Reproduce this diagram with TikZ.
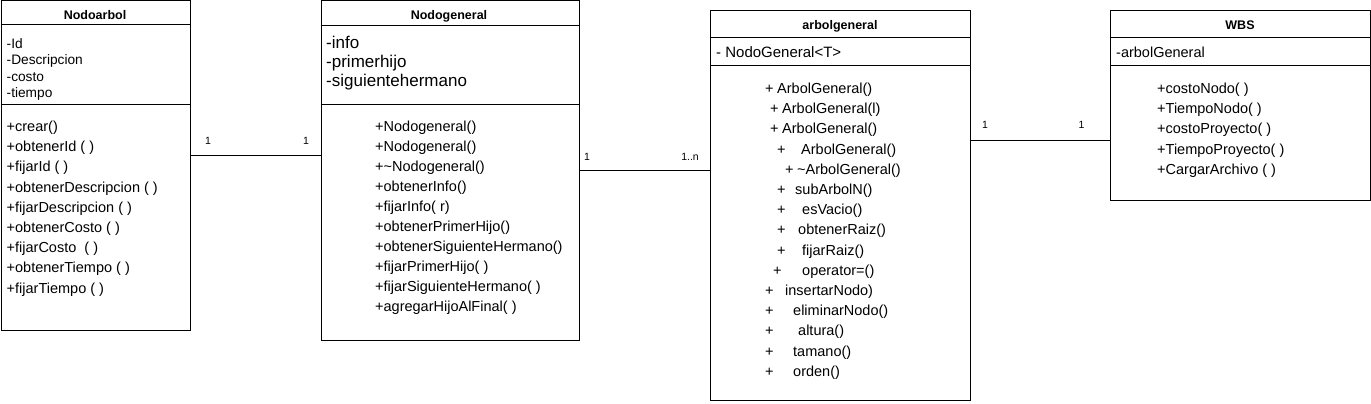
\documentclass[tikz,border=0pt]{standalone}
\usepackage{fontspec}
\setmainfont{Liberation Sans}
\tikzset{
  umlbox/.style={draw, line width=1pt, anchor=north west, inner sep=0pt},
  classname/.style={font=\fontsize{12.5}{14}\selectfont\bfseries, anchor=base, inner sep=0pt},
  member/.style={font=\fontsize{14.5}{16}\selectfont, anchor=base west, inner sep=0pt},
  mult/.style={font=\fontsize{10.5}{12}\selectfont, anchor=base, inner sep=0pt},
}
\begin{document}
\begin{tikzpicture}[x=1pt, y=-1pt]
	\useasboundingbox (0,0) rectangle (1371,404);
	% class boxes
	\node[umlbox, minimum width=189.5pt, minimum height=329.5pt] (nodoarbol) at (0.5,0.5) {};
	\node[umlbox, minimum width=258pt, minimum height=339pt] (nodogeneral) at (320.5,0.5) {};
	\node[umlbox, minimum width=260pt, minimum height=389.5pt] (arbolgeneral) at (710,10) {};
	\node[umlbox, minimum width=260pt, minimum height=190pt] (wbs) at (1110,10) {};
	
	% compartments
	\draw[line width=1pt] (nodoarbol.west |- 0,25) -- (nodoarbol.east |- 0,25);
	\draw[line width=1pt] (nodoarbol.west |- 0,104) -- (nodoarbol.east |- 0,104);
	\draw[line width=1pt] (nodogeneral.west |- 0,26) -- (nodogeneral.east |- 0,26);
	\draw[line width=1pt] (nodogeneral.west |- 0,104) -- (nodogeneral.east |- 0,104);
	\draw[line width=1pt] (arbolgeneral.west |- 0,38) -- (arbolgeneral.east |- 0,38);
	\draw[line width=1pt] (arbolgeneral.west |- 0,66) -- (arbolgeneral.east |- 0,66);
	\draw[line width=1pt] (wbs.west |- 0,38) -- (wbs.east |- 0,38);
	\draw[line width=1pt] (wbs.west |- 0,66) -- (wbs.east |- 0,66);
	
	% names
	\node[classname] (nodoarbolname) at (95,20) {Nodoarbol};
	\node[classname] (nodogeneralname) at (449,20) {Nodogeneral};
	\node[classname] (arbolgeneralname) at (840,30) {arbolgeneral};
	\node[classname] (wbsname) at (1240,30) {WBS};
	
	% Nodoarbol
	\foreach \txt [count=\i from 0] in {-Id, -Descripcion, -costo, -tiempo}
		\node[member, font=\fontsize{13.7}{15}\selectfont] (naa\i) at (6.5,{48.5+16.3*\i}) {\txt};
	\foreach \txt [count=\i from 0] in {+crear(), +obtenerId ( ), +fijarId ( ), +obtenerDescripcion ( ), +fijarDescripcion ( ), +obtenerCosto ( ), +fijarCosto\ \ ( ), +obtenerTiempo ( ), +fijarTiempo ( )}
		\node[member] (nam\i) at (6.5,{131.5+20.2*\i}) {\txt};
	
	% Nodogeneral
	\foreach \txt [count=\i from 0] in {-info, -primerhijo, -siguientehermano}
		\node[member, font=\fontsize{17}{19}\selectfont] (nga\i) at (326,{49+19*\i}) {\txt};
	\foreach \txt [count=\i from 0] in {+Nodogeneral(), +Nodogeneral(), +\textasciitilde Nodogeneral(), +obtenerInfo(), +fijarInfo( r), +obtenerPrimerHijo(), +obtenerSiguienteHermano(), +fijarPrimerHijo( ), +fijarSiguienteHermano( ), +agregarHijoAlFinal( )}
		\node[member] (ngm\i) at (375,{131+20.1*\i}) {\txt};
	
	% arbolgeneral
	\node[member, font=\fontsize{15}{17}\selectfont] (aga0) at (716,57.5) {- NodoGeneral<T>};
	\foreach \px/\nx/\txt [count=\i from 0] in {765/777/ArbolGeneral(), 770/782/ArbolGeneral(l), 770/782/ArbolGeneral(), 777/801/ArbolGeneral(), 785/797/\textasciitilde ArbolGeneral(), 777/795/subArbolN(), 777/802/esVacio(), 777/798/obtenerRaiz(), 777/802/fijarRaiz(), 773/802/operator=(), 765/785/insertarNodo), 765/793/eliminarNodo(), 765/798/altura(), 765/793/tamano(), 765/793/orden()}
	{
		\node[member] (agp\i) at (\px,{93.5+20.2*\i}) {+};
		\node[member] (agm\i) at (\nx,{93.5+20.2*\i}) {\txt};
	}
	
	% WBS
	\node[member] (wbsa0) at (1116,57.5) {-arbolGeneral};
	\foreach \txt [count=\i from 0] in {+costoNodo( ), +TiempoNodo( ), +costoProyecto( ), +TiempoProyecto( ), +CargarArchivo ( )}
		\node[member] (wbsm\i) at (1157,{93+20.4*\i}) {\txt};
	
	% associations
	\draw[line width=1pt] (nodoarbol.east |- 0,155) -- (nodogeneral.west |- 0,155);
	\node[mult] (m1a) at (208,144) {1};
	\node[mult] (m1b) at (306,144) {1};
	\draw[line width=1pt] (nodogeneral.east |- 0,170.5) -- (arbolgeneral.west |- 0,170.5);
	\node[mult] (m2a) at (587,160) {1};
	\node[mult] (m2b) at (690,160) {1..n};
	\draw[line width=1pt] (arbolgeneral.east |- 0,140.5) -- (wbs.west |- 0,140.5);
	\node[mult] (m3a) at (985,128.3) {1};
	\node[mult] (m3b) at (1081.5,128.3) {1};
\end{tikzpicture}
\end{document}
